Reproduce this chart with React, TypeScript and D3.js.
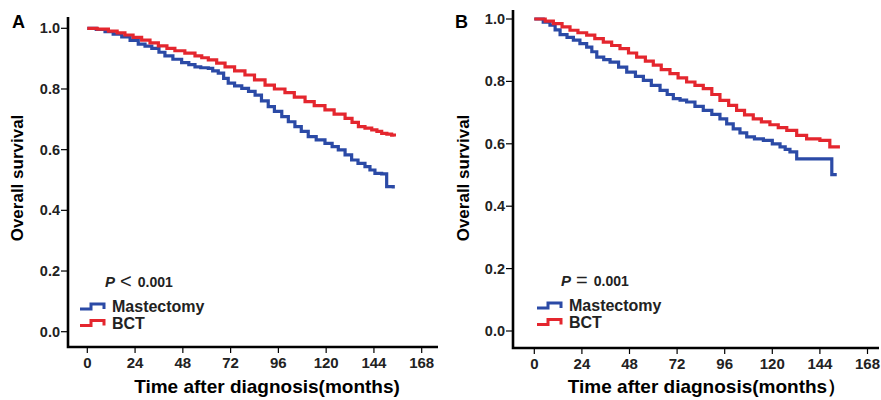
import React from "react";
import * as d3 from "d3";

const xTicks = [0, 24, 48, 72, 96, 120, 144, 168];
const yTicks = [0.0, 0.2, 0.4, 0.6, 0.8, 1.0];

const aMastT = [0, 4.5, 8.9, 13, 17.3, 21.5, 25.6, 29, 32.4, 36, 39, 43, 47.4, 51, 54.1, 57, 60.8, 63, 65.8, 68.5, 70.8, 74, 77.6, 81, 84.3, 87.5, 90.9, 94, 97.7, 101, 104.3, 107.5, 111, 115, 119.4, 123, 126.1, 129.5, 132.8, 136, 139.5, 142, 144.5, 147.9, 150.4, 153.7];
const aMastS = [1.0, 0.996, 0.989, 0.981, 0.972, 0.96, 0.948, 0.941, 0.934, 0.921, 0.909, 0.898, 0.887, 0.88, 0.873, 0.87, 0.868, 0.86, 0.852, 0.835, 0.819, 0.81, 0.802, 0.792, 0.78, 0.761, 0.742, 0.726, 0.709, 0.692, 0.676, 0.66, 0.643, 0.632, 0.621, 0.61, 0.599, 0.583, 0.566, 0.555, 0.544, 0.533, 0.522, 0.52, 0.478, 0.472];
const aBctT = [0, 5, 10.6, 15, 18.9, 23, 27.3, 31.5, 35.7, 40, 44, 49, 54.1, 57.5, 60.8, 65, 69.2, 74, 79.2, 84, 89.3, 94, 99.3, 104, 109.4, 114, 119.4, 124, 129.5, 133, 136.2, 139.5, 142.9, 145.5, 147.9, 150.5, 152.9, 154.3];
const aBctS = [1.0, 0.997, 0.991, 0.985, 0.978, 0.97, 0.961, 0.952, 0.942, 0.934, 0.926, 0.918, 0.909, 0.903, 0.896, 0.885, 0.873, 0.86, 0.846, 0.83, 0.813, 0.8, 0.788, 0.773, 0.758, 0.745, 0.731, 0.717, 0.703, 0.69, 0.676, 0.671, 0.665, 0.66, 0.654, 0.651, 0.648, 0.643];

const bMastT = [0, 1.2, 4.5, 7.9, 10.5, 13, 16.5, 19.7, 23, 26.4, 29, 31.5, 35, 38.2, 42.5, 46.6, 51, 55, 59, 63.4, 67, 70.1, 73.5, 76.8, 81, 85.2, 89.5, 93.6, 97, 100.3, 103.7, 107.1, 111, 115.5, 120, 123.9, 126.5, 128.9, 132.3, 150, 152.5];
const bMastS = [1.0, 1.0, 0.99, 0.98, 0.965, 0.95, 0.941, 0.932, 0.921, 0.91, 0.895, 0.878, 0.87, 0.862, 0.846, 0.83, 0.816, 0.803, 0.787, 0.771, 0.758, 0.745, 0.74, 0.734, 0.72, 0.707, 0.694, 0.68, 0.664, 0.648, 0.635, 0.622, 0.616, 0.611, 0.6, 0.59, 0.582, 0.574, 0.552, 0.501, 0.501];
const bBctT = [0, 1.2, 5.5, 9.6, 14, 18, 22, 26.4, 30.5, 34.8, 39, 43.2, 47.5, 51.6, 56, 60, 64, 68.4, 72.5, 76.8, 81, 85.2, 89.5, 93.6, 98, 102, 106, 110.4, 114.5, 118.8, 123, 127.3, 132.3, 137.3, 144, 149, 154.1];
const bBctS = [1.0, 1.0, 0.993, 0.985, 0.975, 0.964, 0.956, 0.948, 0.937, 0.926, 0.915, 0.905, 0.891, 0.878, 0.865, 0.852, 0.838, 0.825, 0.811, 0.798, 0.787, 0.777, 0.758, 0.739, 0.723, 0.707, 0.693, 0.68, 0.67, 0.661, 0.652, 0.643, 0.627, 0.616, 0.611, 0.59, 0.59];

const legendLabels = ["Mastectomy", "BCT"];
const BLUE = "#2b4aa6";
const RED = "#e4262e";
const FONT = "'Liberation Sans', Arial, sans-serif";

type PanelProps = {
  letter: string;
  letterX: number;
  yAxisX: number;
  yTop: number;
  y0: number;
  y1: number;
  xAxisY: number;
  xAxisEnd: number;
  x0: number;
  x168: number;
  ylabelX: number;
  xLabel: string;
  xLabelX: number;
  pPrefix: string;
  pValue: string;
  pX: number;
  legendX: number;
  legendY: number;
  mast: [number[], number[]];
  bct: [number[], number[]];
};

function Panel(p: PanelProps) {
  const x = d3.scaleLinear().domain([0, 168]).range([p.x0, p.x168]);
  const y = d3.scaleLinear().domain([0, 1]).range([p.y0, p.y1]);
  const line = d3
    .line<[number, number]>()
    .x((d) => x(d[0]))
    .y((d) => y(d[1]))
    .curve(d3.curveStepAfter);
  const mk = (s: [number[], number[]]) => s[0].map((t, i) => [t, s[1][i]] as [number, number]);
  const iconPath = (lx: number, ly: number) => `M${lx},${ly + 3} H${lx + 11} V${ly - 2} H${lx + 24} V${ly + 3}`;
  return (
    <g>
      <text x={p.letterX} y={28} fontFamily={FONT} fontWeight="bold" fontSize={18}>{p.letter}</text>
      <path d={line(mk(p.mast)) || ""} fill="none" stroke={BLUE} strokeWidth={3.2} />
      <path d={line(mk(p.bct)) || ""} fill="none" stroke={RED} strokeWidth={3.2} />
      <path
        d={`M${p.yAxisX},${p.yTop} V${p.xAxisY} H${p.xAxisEnd}`}
        fill="none"
        stroke="#000"
        strokeWidth={2.6}
      />
      {yTicks.map((t) => (
        <g key={"y" + t}>
          <line x1={p.yAxisX - 7} x2={p.yAxisX} y1={y(t)} y2={y(t)} stroke="#000" strokeWidth={1.2} />
          <text x={p.yAxisX - 8} y={y(t) + 5} textAnchor="end" fontFamily={FONT} fontSize={14.5} fontWeight={600} fill="#222">
            {t.toFixed(1)}
          </text>
        </g>
      ))}
      {xTicks.map((t) => (
        <g key={"x" + t}>
          <line x1={x(t)} x2={x(t)} y1={p.xAxisY} y2={p.xAxisY + 6} stroke="#000" strokeWidth={1.2} />
          <text x={x(t)} y={p.xAxisY + 21} textAnchor="middle" fontFamily={FONT} fontSize={15} fontWeight={600} fill="#222">
            {t}
          </text>
        </g>
      ))}
      <text
        transform={`translate(${p.ylabelX},178) rotate(-90)`}
        textAnchor="middle"
        fontFamily={FONT}
        fontWeight="bold"
        fontSize={17}
      >
        Overall survival
      </text>
      <text x={p.xLabelX} y={393} textAnchor="middle" fontFamily={FONT} fontWeight="bold" fontSize={19}>
        {p.xLabel}
      </text>
      <text x={p.pX} y={p.legendY - 19} fontFamily={FONT} fontWeight="bold" fontSize={14} fill="#222">
        <tspan fontStyle="italic" fontSize={15}>P</tspan>
        <tspan fontWeight="normal" fontSize={20} dx={5} dy={1}>{p.pPrefix}</tspan>
        <tspan dx={6} dy={-1}>{p.pValue}</tspan>
      </text>
      {legendLabels.map((lab, i) => (
        <g key={lab}>
          <path
            d={iconPath(p.legendX, p.legendY + i * 16.5)}
            fill="none"
            stroke={i === 0 ? BLUE : RED}
            strokeWidth={3}
          />
          <text x={p.legendX + 32} y={p.legendY + 6 + i * 16.5} fontFamily={FONT} fontWeight="bold" fontSize={16} fill="#222">
            {lab}
          </text>
        </g>
      ))}
    </g>
  );
}

export default function App() {
  return (
    <svg width={881} height={400} style={{ display: "block", position: "absolute", left: 0, top: 0, background: "#fff" }}>
      <rect width={881} height={400} fill="#fff" />
      <Panel
        letter="A"
        letterX={12}
        yAxisX={68}
        yTop={17}
        y0={331.7}
        y1={28.3}
        xAxisY={347}
        xAxisEnd={438}
        x0={87.3}
        x168={421.7}
        ylabelX={23}
        xLabel="Time after diagnosis(months)"
        xLabelX={267}
        pPrefix="<"
        pValue="0.001"
        pX={105}
        legendX={80}
        legendY={306}
        mast={[aMastT, aMastS]}
        bct={[aBctT, aBctS]}
      />
      <Panel
        letter="B"
        letterX={455}
        yAxisX={513}
        yTop={10}
        y0={331}
        y1={19}
        xAxisY={348}
        xAxisEnd={879}
        x0={534.3}
        x168={867.5}
        ylabelX={469}
        xLabel="Time after diagnosis(months）"
        xLabelX={707}
        pPrefix="="
        pValue="0.001"
        pX={561}
        legendX={537}
        legendY={305}
        mast={[bMastT, bMastS]}
        bct={[bBctT, bBctS]}
      />
    </svg>
  );
}
